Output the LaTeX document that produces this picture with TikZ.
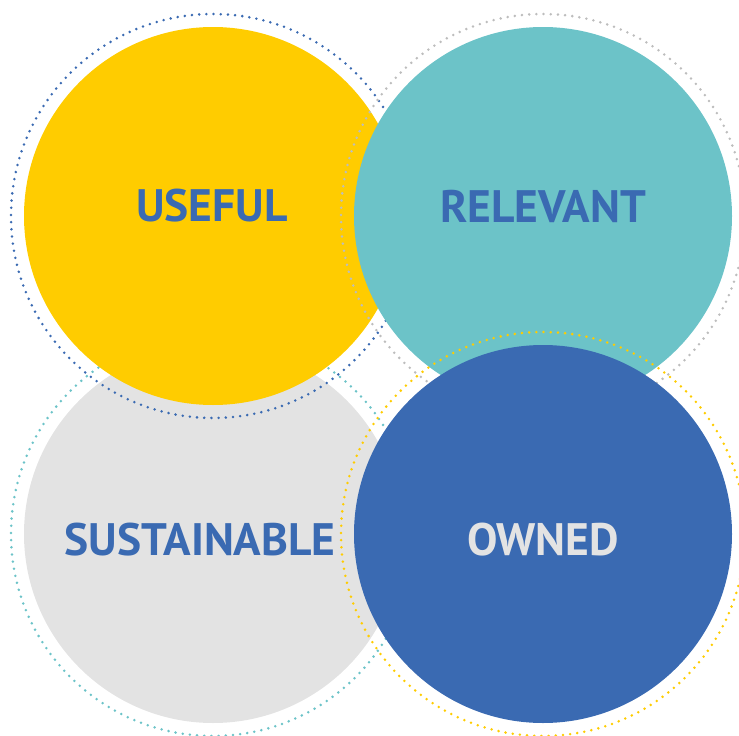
\documentclass[tikz,border=0pt]{standalone}
\usepackage{fontspec}
\setmainfont{PT Sans}
\definecolor{cyellow}{HTML}{FFCC00}
\definecolor{cteal}{HTML}{6CC3C8}
\definecolor{cblue}{HTML}{3A6AB2}
\definecolor{cgray}{HTML}{E3E3E3}
\definecolor{cring}{HTML}{BDBDBD}
\tikzset{
  disc/.style={circle, inner sep=0pt, minimum size=378pt, fill=#1},
  ring/.style={draw=#1, line width=2.8pt, line cap=round, dash pattern=on 0pt off 7.2pt},
  word/.style={font=\bfseries\fontsize{45.5}{45.5}\selectfont, text=#1, inner sep=0pt}
}
\begin{document}
\begin{tikzpicture}[x=1pt,y=-1pt]
\useasboundingbox (0,0) rectangle (739,736);
% sustainable (bottom)
\node[disc=cgray] (sus) at (213,534) {};
\draw[ring=cteal] (sus.center) circle[radius=202pt];
% useful
\node[disc=cyellow] (use) at (213,216) {};
\draw[ring=cblue] (use.center) circle[radius=202pt];
% relevant
\node[disc=cteal] (rel) at (543,216) {};
\draw[ring=cring] (rel.center) circle[radius=202pt];
% owned
\node[disc=cblue] (own) at (543,534) {};
\draw[ring=cyellow] (own.center) circle[radius=202pt];
% labels
\node[word=cblue] (tuse) at (212,206) {USEFUL};
\node[word=cblue] (trel) at (543,206) {RELEVANT};
\node[word=cblue] (tsus) at (200,540) {SUSTAINABLE};
\node[word=cgray] (town) at (543,540) {OWNED};
\end{tikzpicture}
\end{document}
